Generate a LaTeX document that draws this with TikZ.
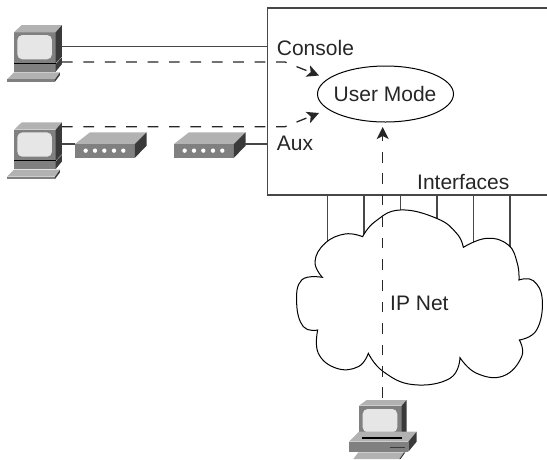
\documentclass[tikz,border=0pt]{standalone}
\usepackage{fontspec}
\setmainfont{Liberation Sans}
\usetikzlibrary{arrows.meta,shapes.geometric}
\definecolor{midg}{HTML}{808080}
\definecolor{lightg}{HTML}{B2B2B2}
\definecolor{darkg}{HTML}{3A3A3A}
\definecolor{screeng}{HTML}{E6E6E6}
\definecolor{inkg}{HTML}{262626}
\tikzset{
  lbl/.style={font=\fontsize{21}{21}\selectfont,text=inkg,inner sep=0pt,anchor=base west},
  solidline/.style={line width=1.2pt,draw=inkg!85!white},
  dashline/.style={line width=1.3pt,draw=inkg,dash pattern=on 10.7pt off 10.7pt},
  arrowline/.style={dashline,-{Stealth[length=12pt,width=12pt,inset=3pt]}},
  desktop/.pic={
    \begin{scope}[scale=0.3333]
    \fill[midg] (42,97) rectangle (167,190);
    \fill[lightg] (42,97) -- (65,75) -- (186,75) -- (167,97) -- cycle;
    \fill[darkg] (167,97) -- (186,75) -- (186,170) -- (167,190) -- cycle;
    \fill[screeng,rounded corners=5pt] (52,105) rectangle (156,178);
    \fill[midg] (42,192) rectangle (167,215);
    \fill[darkg] (167,192) -- (186,172) -- (186,192) -- (167,215) -- cycle;
    \fill[black] (42,188.5) rectangle (167,192);
    \fill[lightg] (42,217) -- (180,217) -- (165,238) -- (21,238) -- cycle;
    \fill[midg] (21,238) rectangle (165,245);
    \fill[darkg] (165,238) -- (180,217) -- (180,225) -- (165,245) -- cycle;
    \end{scope}
  },
  modem/.pic={
    \begin{scope}[scale=0.3333]
    \fill[midg] (225,432) rectangle (405,473);
    \fill[lightg] (225,432) -- (270,397) -- (440,397) -- (405,432) -- cycle;
    \fill[darkg] (405,432) -- (440,397) -- (440,437) -- (405,473) -- cycle;
    \foreach \dx in {257,285,313,342,370} \fill[white] (\dx,452) circle (6.5);
    \end{scope}
  },
  tower/.pic={
    \begin{scope}[scale=0.3333]
    \fill[midg] (87,47) rectangle (215,140);
    \fill[lightg] (87,47) -- (110,30) -- (230,30) -- (215,47) -- cycle;
    \fill[darkg] (215,47) -- (230,30) -- (230,125) -- (215,140) -- cycle;
    \fill[screeng,rounded corners=5pt] (98,57) rectangle (202,127);
    \fill[lightg] (57,155) -- (87,125) -- (260,125) -- (235,155) -- cycle;
    \fill[midg] (57,155) rectangle (235,185);
    \fill[darkg] (235,155) -- (260,125) -- (260,155) -- (235,185) -- cycle;
    \fill[black] (95,140) rectangle (215,147);
    \fill[darkg] (180,170) rectangle (225,174);
    \fill[lightg] (85,187) -- (222,187) -- (208,207) -- (70,207) -- cycle;
    \fill[darkg] (222,187) -- (226,187) -- (212,207) -- (208,207) -- cycle;
    \end{scope}
  }
}
\begin{document}
\begin{tikzpicture}[x=1pt,y=-1pt]
\useasboundingbox (0,0) rectangle (547,459);
% chassis
\draw[line width=1.2pt,draw=inkg!85!white] (547,8) -- (267.7,8) -- (267.7,195) -- (547,195);
\coordinate (cons) at (267.7,46.7);
\coordinate (auxp) at (267.7,144);
% interface lines
\foreach \i/\ix in {1/327.5,2/364,3/400.5,4/437,5/473.5,6/510} {
  \coordinate (ift\i) at (\ix,195);
  \coordinate (ifb\i) at (\ix,260);
  \draw[solidline] (ift\i) -- (ifb\i);
}
% cloud
\begin{scope}[shift={(280,190)},scale=0.3333]
\draw[line width=1pt,draw=black,fill=white]
  plot[smooth,tension=.75] coordinates {(248,140) (285,95) (360,60) (470,85) (530,130) (550,172)}
  -- plot[smooth,tension=.75] coordinates {(550,172) (620,145) (685,165) (712,220) (717,270)}
  -- plot[smooth,tension=.75] coordinates {(717,270) (760,272) (787,330) (770,420) (718,450)}
  -- plot[smooth,tension=.75] coordinates {(718,450) (725,500) (670,558) (590,550) (540,503)}
  -- plot[smooth,tension=.75] coordinates {(540,503) (510,565) (400,584) (310,545) (265,490)}
  -- plot[smooth,tension=.75] coordinates {(265,490) (235,530) (170,535) (115,490) (113,420)}
  -- plot[smooth,tension=.75] coordinates {(113,420) (70,410) (50,340) (65,270) (127,262)}
  -- plot[smooth,tension=.75] coordinates {(127,262) (105,215) (135,160) (195,132) (248,140)}
  -- cycle;
\end{scope}
% devices
\pic (pca) at (0,0) {desktop};
\pic (pcb) at (0,97.4) {desktop};
\pic (moda) at (0,0) {modem};
\pic (modb) at (99,0) {modem};
\pic (pcc) at (330,390) {tower};
\coordinate (pcaS) at (62,46.7);
\coordinate (pcaD) at (62,62);
\coordinate (pcbS) at (62,144);
\coordinate (pcbD) at (62,126.7);
\coordinate (modaL) at (75,144);
\coordinate (modbR) at (245,144);
\coordinate (pccT) at (382.7,398);
\coordinate (bendA) at (285,62);
\coordinate (bendB) at (285,126.7);
% user mode
\node[draw=black,line width=1pt,ellipse,minimum width=136pt,minimum height=56pt,inner sep=0pt] (um) at (385.5,94) {};
\coordinate (umA) at (319,75.5);
\coordinate (umB) at (319,113);
\coordinate (umC) at (382.7,127);
% connectors
\draw[solidline] (pcaS) -- (cons);
\draw[solidline] (pcbS) -- (modaL);
\draw[solidline] (modbR) -- (auxp);
\draw[arrowline] (pcaD) -- (bendA) -- (umA);
\draw[arrowline] (pcbD) -- (bendB) -- (umB);
\draw[arrowline] (pccT) -- (umC);
% labels
\node[lbl] (tcons) at (276.7,55) {Console};
\node[lbl] (taux) at (276.7,150) {Aux};
\node[lbl] (tum) at (333.5,101.5) {User Mode};
\node[lbl] (tif) at (417,189) {Interfaces};
\node[lbl] (tip) at (390,310) {IP Net};
\end{tikzpicture}
\end{document}
